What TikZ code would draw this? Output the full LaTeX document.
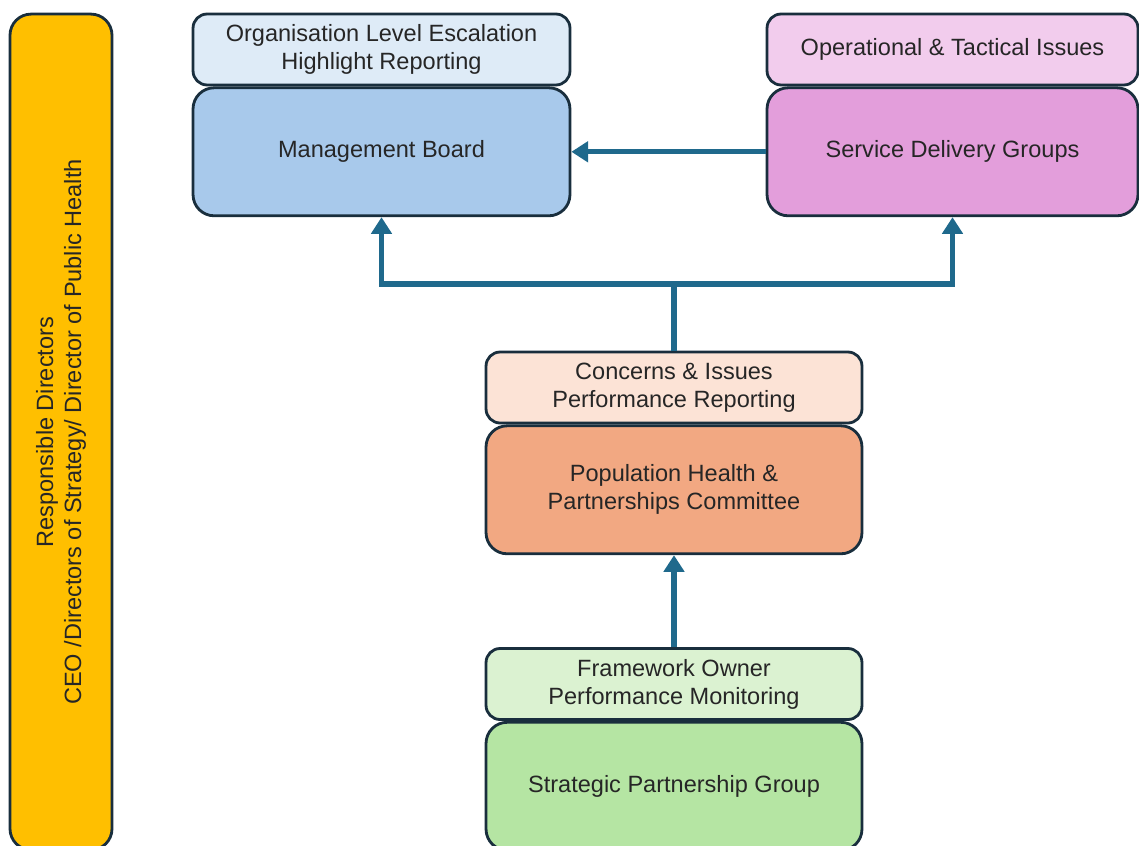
\documentclass[tikz,border=0pt]{standalone}
\usepackage{fontspec}
\setmainfont{Liberation Sans}
\usetikzlibrary{arrows.meta,positioning}
\definecolor{borde}{rgb}{0.10,0.18,0.24}
\definecolor{azulflecha}{rgb}{0.12,0.41,0.55}
\definecolor{amarillo}{rgb}{1.00,0.75,0.00}
\definecolor{azulclaro}{rgb}{0.87,0.92,0.97}
\definecolor{azulmedio}{rgb}{0.66,0.79,0.92}
\definecolor{rosaclaro}{rgb}{0.95,0.80,0.93}
\definecolor{rosamedio}{rgb}{0.89,0.62,0.86}
\definecolor{melocoton}{rgb}{0.99,0.89,0.84}
\definecolor{naranja}{rgb}{0.95,0.66,0.51}
\definecolor{verdeclaro}{rgb}{0.86,0.95,0.82}
\definecolor{verdemedio}{rgb}{0.71,0.90,0.64}
\tikzset{
  cabecera/.style={
    rounded corners=8pt,
    draw=borde,
    line width=1.6pt,
    align=center,
    minimum height=1.42cm,
    inner sep=2pt,
    text=black!85,
    font=\fontsize{13.4}{15.9}\selectfont
  },
  bloque/.style={
    cabecera,
    rounded corners=12pt,
    minimum height=2.56cm
  },
  lateral/.style={
    cabecera,
    rounded corners=12pt,
    fill=amarillo,
    rotate=90,
    minimum width=16.72cm,
    minimum height=2.04cm
  },
  arrow/.style={
    -{Triangle[length=9.5pt,width=11.5pt]},
    line width=3pt,
    azulflecha
  }
}

\begin{document}
\begin{tikzpicture}[x=0.02cm, y=-0.02cm]
\useasboundingbox (0,0) rectangle (1139,845);
\clip (0,0) rectangle (1139,845);
% directors bar
\node[lateral] (dir) at (61,432) {Responsible Directors\\CEO /Directors of Strategy/ Director of Public Health};
% top row
\node[cabecera, fill=azulclaro, minimum width=7.54cm] (mbcab) at (381.5,49.5) {Organisation Level Escalation\\Highlight Reporting};
\node[bloque, fill=azulmedio, minimum width=7.54cm, below=0pt of mbcab] (mb) {Management Board};
\node[cabecera, fill=rosaclaro, minimum width=7.42cm] (sdgcab) at (952.5,49.5) {Operational \& Tactical Issues};
\node[bloque, fill=rosamedio, minimum width=7.42cm, below=0pt of sdgcab] (sdg) {Service Delivery Groups};
% committee
\node[cabecera, fill=melocoton, minimum width=7.52cm] (phcab) at (674,387.5) {Concerns \& Issues\\Performance Reporting};
\node[bloque, fill=naranja, minimum width=7.52cm, below=0pt of phcab] (ph) {Population Health \&\\Partnerships Committee};
% partnership group
\node[cabecera, fill=verdeclaro, minimum width=7.52cm] (spgcab) at (674,684) {Framework Owner\\Performance Monitoring};
\node[bloque, fill=verdemedio, minimum width=7.52cm, below=0pt of spgcab] (spg) {Strategic Partnership Group};
% connectors
\coordinate (split) at (674,284);
\draw[arrow] (sdg.west) -- (mb.east);
\draw[arrow, -] (phcab.north) -- (split);
\draw[arrow] (split) -| (mb.south);
\draw[arrow] (split) -| (sdg.south);
\draw[arrow] (spgcab.north) -- (ph.south);
\end{tikzpicture}
\end{document}
